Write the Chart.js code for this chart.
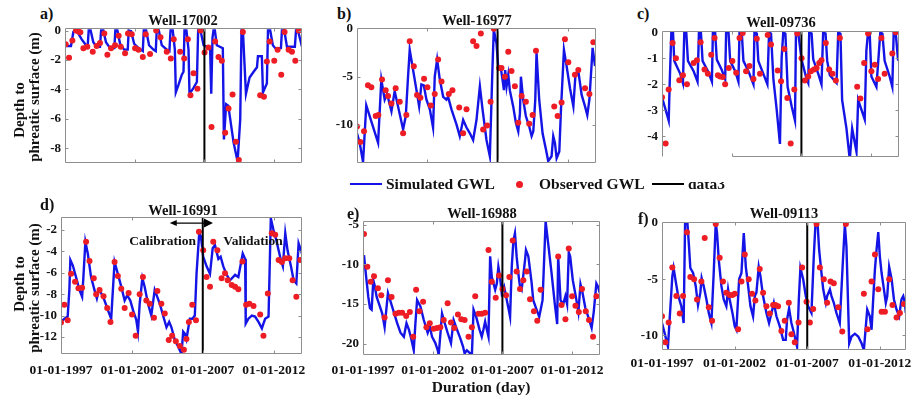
<!DOCTYPE html>
<html>
<head>
<meta charset="utf-8">
<script src="https://cdn.jsdelivr.net/npm/chart.js@4.4.1/dist/chart.umd.min.js"></script>
<style>
  body { margin: 0; background: #fff; }
  #fig { position: relative; width: 914px; height: 400px; overflow: hidden;
         font-family: "Liberation Serif", "Times New Roman", serif; font-weight: bold; color: #111; }
  .panel { position: absolute; }
  .txt { position: absolute; white-space: nowrap; line-height: 1; }
  .ttl { font-size: 14.5px; transform: translate(-50%, -50%); }
  .lab { font-size: 16px; transform: translate(0, -50%); }
  .ylab { font-size: 15px; transform: translate(-50%, -50%) rotate(-90deg); }
  .leg { font-size: 15.5px; top: 176.3px; }
</style>
</head>
<body>
<div id="fig">
  <div class="panel" id="pa"><canvas id="ca"></canvas></div>
  <div class="panel" id="pb"><canvas id="cb"></canvas></div>
  <div class="panel" id="pc"><canvas id="cc"></canvas></div>
  <div class="panel" id="pd"><canvas id="cd"></canvas></div>
  <div class="panel" id="pe"><canvas id="ce"></canvas></div>
  <div class="panel" id="pf"><canvas id="cf"></canvas></div>

  <!-- panel letters and titles -->
  <div class="txt lab" style="left:40px;top:14px">a)</div>
  <div class="txt lab" style="left:337px;top:14px">b)</div>
  <div class="txt lab" style="left:637px;top:14px">c)</div>
  <div class="txt lab" style="left:40px;top:205px">d)</div>
  <div class="txt lab" style="left:347px;top:214px">e)</div>
  <div class="txt lab" style="left:638px;top:219px">f)</div>
  <div class="txt ttl" style="left:183px;top:20px">Well-17002</div>
  <div class="txt ttl" style="left:477px;top:20px">Well-16977</div>
  <div class="txt ttl" style="left:781px;top:22px">Well-09736</div>
  <div class="txt ttl" style="left:183px;top:210px">Well-16991</div>
  <div class="txt ttl" style="left:482px;top:213px">Well-16988</div>
  <div class="txt ttl" style="left:784px;top:213px">Well-09113</div>

  <!-- y axis labels -->
  <div class="txt ylab" style="left:19px;top:110px">Depth to</div>
  <div class="txt ylab" style="left:34px;top:97px">phreatic surface (m)</div>
  <div class="txt ylab" style="left:19px;top:284px">Depth to</div>
  <div class="txt ylab" style="left:34px;top:288px">phreatic surface (m)</div>

  <!-- x axis label -->
  <div class="txt" style="left:481px;top:387px;font-size:15.5px;transform:translate(-50%,-50%)">Duration (day)</div>

  <!-- legend -->
  <div style="position:absolute;left:350px;top:183px;width:32px;height:2.4px;background:#1414e6"></div>
  <div class="txt leg" style="left:386px">Simulated GWL</div>
  <div style="position:absolute;left:515.5px;top:180.5px;width:7px;height:7px;border-radius:50%;background:#ee1c24"></div>
  <div class="txt leg" style="left:539px">Observed GWL</div>
  <div style="position:absolute;left:652px;top:183px;width:32px;height:2px;background:#000"></div>
  <div style="position:absolute;left:688px;top:182px;width:40px;height:9px;overflow:hidden">
    <div class="txt" style="left:0;top:-5.7px;font-size:15.5px">data3</div>
  </div>
</div>

<script>
// shared x axis (years) and split between calibration and validation
const xTicks = [1997, 2002, 2007, 2012];
const calibSplit = 2007;

// Well-17002
const aSim = [[1997.00,-1.05],[1997.43,-1.05],[1997.60,-0.1],[1997.72,0],[1997.89,-0.1],[1998.20,-0.6],[1998.51,-1.0],[1998.63,-1.0],[1998.70,0],[1998.84,0],
  [1999.03,-0.8],[1999.27,-1.1],[1999.51,-1.1],[1999.59,0],[1999.75,0],[1999.94,-0.8],[2000.23,-1.2],[2000.54,-1.2],[2000.61,0],[2000.76,0],
  [2000.95,-0.9],[2001.24,-1.3],[2001.50,-1.3],[2001.57,0],[2001.74,-0.05],[2001.96,-0.9],[2002.27,-1.2],[2002.58,-1.4],[2002.65,0],[2002.82,0],
  [2003.03,-1.0],[2003.34,-1.3],[2003.51,-1.4],[2003.58,0],[2003.73,0],[2003.94,-1.0],[2004.30,-1.3],[2004.49,-1.4],[2004.57,0],[2004.73,0],
  [2004.88,-1.3],[2004.95,-4.2],[2005.14,-3.7],[2005.38,-3.0],[2005.50,-2.8],[2005.57,0],[2005.71,0],[2005.86,-1.3],[2005.93,-4.3],[2006.22,-3.9],
  [2006.46,-3.5],[2006.55,0],[2006.72,0],[2006.94,-1.0],[2007.41,-1.2],[2007.49,-4.3],[2007.58,-0.5],[2007.65,0],[2007.75,0],[2007.89,-1.0],
  [2008.32,-1.2],[2008.40,-7.4],[2008.56,-5.0],[2008.71,-5.1],[2008.85,-6.0],[2009.09,-7.6],[2009.38,-8.9],[2009.57,-6.0],[2009.66,0],[2009.76,0],
  [2009.98,-4.3],[2010.24,-3.2],[2010.53,-2.8],[2010.77,-2.5],[2010.84,-1.75],[2011.12,-1.75],[2011.20,-4.2],[2011.48,-3.6],[2011.56,0],[2011.72,0],
  [2011.91,-1.0],[2012.08,-1.2],[2012.49,-1.2],[2012.56,0],[2012.73,0],[2012.92,-1.1],[2013.49,-1.1],[2013.57,0],[2013.71,0],[2014.00,-1.1]];
const aObs = [[1997.05,-0.93],[1997.29,-1.85],[1997.53,-0.68],[1997.79,0],[1997.96,-0.07],[1998.10,-0.12],[1998.32,-1.2],[1998.60,-1.1],[1998.99,-1.45],
  [1999.27,-1.05],[1999.51,-0.85],[1999.82,-0.2],[2000.04,-1.65],[2000.30,-1.2],[2000.59,-1.0],[2000.85,-0.35],[2001.00,-1.1],[2001.31,-1.55],
  [2001.52,-0.2],[2001.79,-0.25],[2002.03,-1.2],[2002.27,-1.3],[2002.58,-1.8],[2002.79,-0.25],[2003.10,-1.6],[2003.54,0],[2003.85,-0.45],
  [2004.30,-1.45],[2004.59,-1.9],[2004.80,-0.6],[2005.26,-1.45],[2005.55,-1.9],[2005.81,-0.6],[2006.00,-4.4],[2006.22,-2.9],[2006.50,-3.95],
  [2006.72,0],[2007.01,-1.5],[2007.29,-1.15],[2007.51,-6.55],[2007.77,-0.75],[2008.01,-1.8],[2008.25,-2.05],[2008.49,-6.95],[2008.73,-5.3],
  [2009.02,-4.35],[2009.26,-7.55],[2009.47,-8.8],[2009.76,-0.1],[2011.00,-4.4],[2011.27,-4.5],[2011.48,-2.1],[2011.68,-0.75],[2012.01,-2.05],
  [2012.25,-1.3],[2012.51,-3.0],[2012.75,-0.1],[2013.04,-1.3],[2013.28,-1.45],[2013.52,-2.05],[2013.76,0]];
const aTicks = [-8, -6, -4, -2, 0];

// Well-16977
const bSim = [[1997.00,-10.9],[1997.19,-11.9],[1997.43,-13.9],[1997.66,-8.0],[1998.50,-11.9],[1998.73,-5.3],[1998.97,-7.4],[1999.14,-6.8],[1999.33,-7.9],
  [1999.45,-8.6],[1999.68,-6.5],[1999.92,-8.1],[2000.28,-10.5],[2000.47,-9.1],[2000.63,-5.0],[2000.75,-2.2],[2000.99,-4.3],[2001.23,-6.4],
  [2001.42,-8.1],[2001.58,-5.8],[2001.75,-5.9],[2001.94,-7.4],[2002.18,-8.4],[2002.41,-10.3],[2002.53,-5.0],[2002.70,-3.2],[2002.89,-5.3],
  [2003.13,-7.1],[2003.36,-7.4],[2003.48,-7.1],[2003.72,-8.4],[2004.08,-10.0],[2004.31,-11.2],[2004.55,-9.5],[2004.79,-10.3],[2005.03,-10.9],
  [2005.26,-11.6],[2005.50,-9.5],[2005.74,-6.0],[2005.93,-8.4],[2006.21,-11.6],[2006.45,-13.3],[2006.64,-3.9],[2006.73,-0.1],[2006.92,-1.5],
  [2007.04,-3.9],[2007.23,-4.1],[2007.35,-5.3],[2007.45,-6.4],[2007.54,-4.3],[2007.64,-6.0],[2007.76,-4.8],[2007.87,-6.4],[2008.11,-8.1],
  [2008.30,-9.8],[2008.47,-10.7],[2008.59,-8.8],[2008.66,-5.0],[2008.82,-7.4],[2009.01,-9.1],[2009.25,-10.2],[2009.42,-11.2],[2009.54,-10.7],
  [2009.68,-7.4],[2009.77,-2.5],[2009.96,-7.4],[2010.20,-10.9],[2010.44,-12.6],[2010.60,-13.8],[2010.84,-13.3],[2010.96,-11.2],[2011.08,-11.9],
  [2011.20,-13.5],[2011.39,-12.8],[2011.51,-8.4],[2011.72,-2.2],[2011.91,-3.9],[2012.15,-6.2],[2012.39,-8.1],[2012.53,-5.0],[2012.74,-4.4],
  [2012.98,-6.9],[2013.22,-8.1],[2013.38,-9.0],[2013.53,-7.4],[2013.76,-2.0],[2013.93,-3.9]];
const bObs = [[1997.00,-10.2],[1997.24,-11.8],[1997.50,-10.7],[1997.78,-5.9],[1998.02,-6.1],[1998.33,-9.1],[1998.52,-9.0],[1998.78,-5.3],[1999.04,-6.4],
  [1999.21,-7.0],[1999.45,-7.8],[1999.75,-6.2],[2000.04,-7.6],[2000.28,-10.9],[2000.51,-9.0],[2000.75,-1.3],[2001.04,-3.9],[2001.27,-6.9],
  [2001.51,-7.2],[2001.77,-5.2],[2002.01,-6.1],[2002.25,-8.0],[2002.53,-6.8],[2002.77,-3.2],[2003.01,-5.5],[2003.53,-6.8],[2003.79,-6.4],
  [2004.27,-8.2],[2004.55,-10.9],[2004.79,-8.4],[2005.26,-1.3],[2005.50,-1.8],[2005.81,-0.5],[2005.97,-10.5],[2006.26,-10.1],[2006.50,-7.6],
  [2006.73,0],[2007.11,-4.1],[2007.28,-4.1],[2007.52,-5.0],[2007.76,-2.4],[2007.99,-4.4],[2008.23,-6.0],[2008.47,-9.8],[2008.71,-7.0],
  [2009.01,-7.6],[2009.25,-9.9],[2009.49,-9.0],[2009.73,-2.3],[2011.03,-8.1],[2011.27,-9.1],[2011.55,-7.7],[2011.79,-1.1],[2012.03,-3.5],
  [2012.50,-4.8],[2012.74,-4.3],[2013.22,-6.2],[2013.53,-6.8],[2013.81,-1.4]];
const bTicks = [-10, -5, 0];

// Well-09736
const cSim = [[1997.00,-2.5],[1997.48,-3.4],[1997.55,-2.0],[1997.67,0],[1997.79,0],[1997.88,-1.1],[1998.31,-1.6],[1998.50,-1.95],[1998.60,0],[1998.74,0],
  [1998.86,-1.1],[1999.27,-1.5],[1999.55,-1.9],[1999.65,0],[1999.79,0],[1999.91,-1.1],[2000.34,-1.55],[2000.58,-1.9],[2000.65,0],[2000.81,0],
  [2000.93,-1.05],[2001.29,-1.45],[2001.53,-1.8],[2001.60,0],[2001.77,0],[2001.89,-1.1],[2002.25,-1.5],[2002.48,-1.9],[2002.56,0],[2002.72,0],
  [2002.84,-1.1],[2003.20,-1.5],[2003.56,-2.0],[2003.63,0],[2003.80,-0.05],[2003.91,-1.1],[2004.27,-1.6],[2004.56,-2.0],[2004.68,0],[2004.82,-0.05],
  [2004.99,-1.8],[2005.23,-3.0],[2005.46,-4.3],[2005.58,-1.0],[2005.70,0],[2005.85,-0.05],[2006.01,-2.1],[2006.30,-2.85],[2006.54,-3.4],[2006.61,0],
  [2006.78,-0.05],[2007.01,-1.05],[2007.37,-1.8],[2007.49,-1.95],[2007.56,0],[2007.73,-0.05],[2007.85,-1.05],[2008.21,-1.6],[2008.44,-2.0],[2008.56,0],
  [2008.73,-0.05],[2008.85,-1.1],[2009.04,-1.65],[2009.52,-1.95],[2009.64,0],[2009.80,-0.05],[2009.92,-2.6],[2010.23,-3.7],[2010.47,-4.9],[2010.64,-3.7],
  [2010.95,-4.6],[2011.07,-2.6],[2011.54,-3.35],[2011.66,-0.7],[2011.78,0],[2011.90,-0.05],[2012.02,-1.7],[2012.38,-2.1],[2012.66,0],[2012.81,-0.05],
  [2012.97,-1.1],[2013.33,-1.7],[2013.52,-2.1],[2013.62,0],[2013.76,0],[2013.93,-1.05],[2014.00,-1.1]];
const cObs = [[1997.00,-2.5],[1997.26,-4.28],[1997.48,-2.2],[1997.76,-0.41],[1998.00,-1.0],[1998.24,-1.85],[1998.50,-1.65],[1998.79,-2.0],[1999.27,-1.18],
  [1999.50,-1.08],[1999.77,-0.38],[2000.05,-1.43],[2000.29,-1.6],[2000.53,-0.86],[2000.77,-0.22],[2001.01,-1.65],[2001.17,-1.7],[2001.36,-1.72],
  [2001.53,-2.0],[2001.79,-1.37],[2002.05,-1.1],[2002.32,-1.56],[2002.56,-0.22],[2002.79,-0.03],[2003.03,-1.5],[2003.27,-1.3],[2003.56,-1.8],
  [2003.80,-0.25],[2004.03,-1.6],[2004.58,-0.1],[2004.82,-0.47],[2005.30,-1.47],[2005.54,-1.88],[2005.77,-0.64],[2005.99,-2.53],[2006.23,-4.28],
  [2006.49,-2.2],[2006.70,-0.05],[2007.01,-1.0],[2007.25,-1.86],[2007.49,-1.7],[2007.68,-1.5],[2007.90,-1.43],[2008.09,-1.37],[2008.28,-1.18],
  [2008.44,-1.08],[2008.75,-0.41],[2008.99,-1.43],[2009.23,-1.6],[2009.47,-1.86],[2009.76,-0.22],[2011.00,-2.1],[2011.23,-2.55],[2011.50,-1.18],
  [2011.78,-0.05],[2012.02,-1.5],[2012.26,-1.25],[2012.50,-1.8],[2012.74,-0.22],[2012.97,-1.6],[2013.52,-0.82],[2013.76,0]];
const cTicks = [-4, -3, -2, -1, 0];

// Well-16991
const dSim = [[1997.00,-10.6],[1997.24,-10.3],[1997.47,-10.1],[1997.59,-7.6],[1997.66,-4.8],[1997.83,-5.3],[1998.06,-6.4],[1998.30,-7.6],[1998.49,-8.25],
  [1998.58,-6.4],[1998.72,-3.1],[1998.89,-4.2],[1999.12,-6.4],[1999.36,-7.6],[1999.53,-8.4],[1999.67,-7.6],[1999.83,-7.9],[2000.07,-8.6],[2000.31,-9.5],
  [2000.54,-10.3],[2000.66,-7.6],[2000.78,-5.0],[2001.01,-6.1],[2001.25,-7.3],[2001.49,-8.6],[2001.67,-8.1],[2001.89,-8.6],[2002.08,-9.5],[2002.31,-10.4],
  [2002.43,-11.5],[2002.55,-8.9],[2002.74,-6.5],[2002.90,-7.3],[2003.14,-8.9],[2003.37,-10.0],[2003.61,-7.6],[2003.97,-8.9],[2004.20,-10.0],[2004.44,-11.1],
  [2004.63,-10.6],[2004.79,-11.1],[2005.03,-12.3],[2005.26,-12.9],[2005.50,-13.6],[2005.62,-11.5],[2005.74,-11.7],[2005.85,-12.2],[2006.09,-10.3],
  [2006.28,-10.3],[2006.44,-10.0],[2006.56,-6.1],[2006.75,-2.3],[2006.87,-2.6],[2007.03,-4.5],[2007.27,-5.4],[2007.51,-6.1],[2007.70,-3.7],[2007.86,-3.4],
  [2008.10,-4.7],[2008.26,-4.5],[2008.45,-5.4],[2008.69,-6.2],[2008.92,-6.7],[2009.28,-6.2],[2009.51,-6.4],[2009.82,-4.2],[2009.99,-4.7],[2010.03,-10.75],
  [2010.22,-10.3],[2010.46,-10.0],[2010.69,-10.1],[2010.93,-10.6],[2011.17,-11.2],[2011.28,-10.75],[2011.40,-10.3],[2011.64,-10.1],[2011.71,-6.1],
  [2011.80,-0.9],[2011.99,-2.0],[2012.18,-2.9],[2012.35,-3.9],[2012.51,-4.8],[2012.65,-5.4],[2012.82,-2.3],[2012.98,-3.9],[2013.22,-5.4],[2013.41,-6.7],
  [2013.60,-7.0],[2013.76,-3.25],[2014.00,-4.2]];
const dObs = [[1997.00,-10.65],[1997.24,-9.0],[1997.47,-10.45],[1997.71,-6.1],[1997.99,-6.85],[1998.23,-7.45],[1998.49,-7.4],[1998.77,-3.1],[1999.01,-4.9],
  [1999.31,-6.5],[1999.48,-8.0],[1999.72,-7.6],[2000.00,-8.2],[2000.26,-9.3],[2000.49,-10.6],[2000.78,-5.0],[2001.01,-6.3],[2001.25,-7.5],[2001.49,-9.3],
  [2001.77,-7.9],[2002.01,-9.9],[2002.27,-11.9],[2002.55,-8.0],[2002.78,-6.4],[2003.02,-8.6],[2003.26,-8.9],[2003.56,-10.2],[2003.80,-7.7],[2004.08,-8.9],
  [2004.32,-9.8],[2004.60,-12.3],[2004.84,-11.9],[2005.10,-12.4],[2005.38,-12.85],[2005.67,-13.2],[2005.85,-12.2],[2006.02,-10.6],[2006.26,-9.0],
  [2006.52,-10.45],[2006.73,-2.15],[2007.03,-3.9],[2007.27,-6.4],[2007.51,-7.3],[2007.74,-3.1],[2008.03,-3.9],[2008.33,-6.5],[2008.57,-6.05],[2008.76,-6.7],
  [2009.04,-7.15],[2009.28,-7.3],[2009.51,-7.55],[2009.80,-4.95],[2010.06,-9.0],[2010.29,-8.9],[2010.58,-9.1],[2011.05,-9.9],[2011.28,-11.9],[2011.59,-7.95],
  [2011.87,-2.3],[2012.11,-2.45],[2012.35,-4.8],[2012.58,-5.0],[2012.82,-4.65],[2013.10,-4.65],[2013.34,-6.7],[2013.60,-8.25],[2013.88,-4.8]];
const dTicks = [-12, -10, -8, -6, -4, -2];

// Well-16988
const eSim = [[1997.07,-8.85],[1997.24,-11.8],[1997.38,-14.1],[1997.50,-15.5],[1997.62,-15.7],[1997.74,-12.0],[1997.83,-12.6],[1997.98,-14.1],[1998.21,-15.3],
  [1998.38,-16.2],[1998.55,-17.9],[1998.79,-13.6],[1999.21,-16.0],[1999.45,-17.4],[1999.69,-18.6],[1999.93,-19.1],[2000.12,-17.4],[2000.29,-18.2],
  [2000.48,-19.5],[2000.64,-20.8],[2000.76,-17.4],[2000.88,-14.5],[2001.12,-15.3],[2001.36,-17.0],[2001.64,-18.6],[2001.79,-17.8],[2001.95,-19.1],
  [2002.19,-19.9],[2002.36,-20.8],[2002.43,-21.4],[2002.67,-16.2],[2002.83,-17.2],[2003.07,-18.6],[2003.31,-19.9],[2003.50,-17.0],[2003.74,-18.2],
  [2003.98,-19.3],[2004.17,-20.3],[2004.29,-21.2],[2004.45,-20.8],[2004.57,-21.0],[2004.81,-21.4],[2004.93,-15.7],[2005.12,-16.6],[2005.36,-18.2],
  [2005.52,-19.1],[2005.64,-18.2],[2005.76,-17.2],[2005.88,-18.2],[2006.00,-19.1],[2006.12,-9.0],[2006.24,-11.6],[2006.48,-13.2],[2006.60,-12.4],
  [2006.71,-10.3],[2006.83,-11.6],[2006.95,-13.6],[2007.12,-12.8],[2007.43,-15.5],[2007.55,-16.6],[2007.67,-10.3],[2007.79,-7.0],[2007.90,-6.1],
  [2008.02,-9.0],[2008.14,-11.1],[2008.26,-12.8],[2008.38,-13.2],[2008.62,-9.5],[2008.69,-8.2],[2008.86,-9.0],[2009.10,-12.4],[2009.21,-14.5],
  [2009.45,-15.7],[2009.64,-16.6],[2009.88,-14.5],[2010.10,-4.6],[2010.29,-7.5],[2010.52,-11.0],[2010.76,-15.0],[2010.93,-17.5],[2011.00,-9.0],
  [2011.17,-14.5],[2011.36,-15.0],[2011.52,-14.0],[2011.64,-15.0],[2011.76,-8.5],[2011.86,-9.0],[2012.05,-12.0],[2012.26,-14.0],[2012.45,-16.0],
  [2012.60,-12.5],[2012.74,-13.5],[2012.95,-15.5],[2013.14,-16.5],[2013.40,-18.0],[2013.55,-16.0],[2013.74,-12.4],[2013.86,-12.8],[2013.98,-13.6]];
const eObs = [[1997.07,-6.2],[1997.31,-10.3],[1997.55,-12.2],[1997.79,-11.5],[1998.07,-13.0],[1998.31,-13.9],[1998.55,-16.7],[1998.79,-12.0],[1999.05,-14.1],
  [1999.33,-16.2],[1999.57,-16.1],[1999.81,-16.1],[2000.10,-16.5],[2000.36,-16.0],[2000.60,-19.1],[2000.81,-13.2],[2001.05,-15.9],[2001.31,-14.7],
  [2001.55,-17.9],[2001.79,-17.4],[2002.07,-18.1],[2002.31,-18.0],[2002.55,-17.9],[2002.79,-17.0],[2003.07,-14.9],[2003.31,-17.3],[2003.55,-18.0],
  [2003.81,-16.3],[2004.05,-16.9],[2004.29,-17.0],[2004.57,-19.1],[2004.81,-17.9],[2005.05,-14.0],[2005.29,-16.2],[2005.52,-16.2],[2005.76,-16.1],
  [2006.00,-8.2],[2006.24,-12.2],[2006.52,-14.2],[2006.76,-11.4],[2007.00,-13.1],[2007.26,-13.9],[2007.50,-11.6],[2007.74,-7.0],[2008.02,-10.9],
  [2008.26,-13.1],[2008.50,-12.0],[2008.74,-10.9],[2008.98,-14.4],[2009.26,-15.9],[2009.50,-17.1],[2009.74,-13.2],[2011.00,-9.0],[2011.24,-15.1],
  [2011.52,-16.9],[2011.76,-8.0],[2012.00,-14.0],[2012.24,-15.2],[2012.48,-16.0],[2012.71,-13.1],[2012.98,-15.9],[2013.21,-17.0],[2013.50,-19.1],
  [2013.74,-14.0]];
const eTicks = [-20, -15, -10, -5];

// Well-09113
const fSim = [[1997.00,-8.9],[1997.18,-9.8],[1997.41,-11.0],[1997.53,-8.5],[1997.71,-4.75],[1997.80,-4.0],[1997.92,-5.0],[1998.10,-6.4],[1998.33,-7.4],
  [1998.49,-8.9],[1998.59,0],[1998.75,0],[1998.86,-2.1],[1998.95,-4.0],[1999.14,-4.45],[1999.32,-5.6],[1999.48,-7.3],[1999.64,-6.2],[1999.73,-4.9],
  [1999.87,-5.6],[2000.06,-6.8],[2000.22,-8.0],[2000.40,-8.9],[2000.56,-4.45],[2000.70,0],[2000.79,-0.9],[2000.91,-3.3],[2001.09,-5.6],[2001.25,-6.8],
  [2001.43,-7.4],[2001.55,-5.9],[2001.66,-6.8],[2001.85,-8.0],[2002.01,-9.2],[2002.12,-9.5],[2002.31,-5.0],[2002.47,-4.45],[2002.63,-0.9],[2002.77,-3.9],
  [2002.93,-5.6],[2003.09,-7.4],[2003.27,-8.3],[2003.39,-6.5],[2003.50,-6.2],[2003.66,-3.9],[2003.78,-4.75],[2003.96,-6.5],[2004.19,-8.0],[2004.37,-8.9],
  [2004.54,-8.0],[2004.70,-7.1],[2004.88,-8.3],[2005.11,-9.2],[2005.34,-10.4],[2005.52,-10.4],[2005.61,-8.6],[2005.75,-7.6],[2005.91,-8.9],[2006.03,-9.5],
  [2006.14,-10.1],[2006.30,-11.0],[2006.42,-6.8],[2006.53,-4.0],[2006.72,-5.0],[2006.90,-6.5],[2007.06,-7.4],[2007.29,-8.0],[2007.45,-3.0],[2007.57,0],
  [2007.71,0],[2007.82,-2.4],[2007.98,-4.45],[2008.10,-5.9],[2008.28,-7.1],[2008.37,-6.5],[2008.56,-5.9],[2008.67,-6.5],[2008.83,-7.1],[2009.01,-8.0],
  [2009.24,-8.9],[2009.47,-3.0],[2009.59,-0.15],[2009.70,-2.1],[2009.89,-10.7],[2010.05,-10.1],[2010.28,-9.85],[2010.51,-10.1],[2010.74,-10.7],
  [2010.90,-11.3],[2011.13,-7.7],[2011.31,-8.3],[2011.43,-9.5],[2011.54,-6.8],[2011.66,-4.15],[2011.77,-2.4],[2011.89,-0.8],[2012.00,-3.0],[2012.12,-4.45],
  [2012.28,-5.9],[2012.41,-7.1],[2012.51,-6.5],[2012.64,-3.9],[2012.81,-5.0],[2012.97,-6.8],[2013.15,-7.7],[2013.33,-8.3],[2013.49,-6.8],[2013.61,-6.5],
  [2013.72,-7.1],[2013.79,-8.0]];
const fObs = [[1997.00,-8.3],[1997.23,-10.6],[1997.46,-8.85],[1997.71,-3.95],[1997.99,-6.5],[1998.22,-8.05],[1998.45,-6.5],[1998.72,-0.83],[1998.95,-4.8],
  [1999.21,-5.0],[1999.41,-6.8],[1999.71,-5.2],[1999.94,-1.34],[2000.22,-7.5],[2000.45,-8.7],[2000.70,-0.09],[2000.97,-3.1],[2001.20,-5.2],[2001.43,-6.2],
  [2001.66,-6.4],[2001.85,-6.4],[2002.01,-6.3],[2002.24,-9.45],[2002.47,-5.2],[2002.70,-2.8],[2002.97,-5.0],[2003.20,-6.3],[2003.43,-6.9],[2003.73,-4.1],
  [2003.96,-6.2],[2004.19,-7.4],[2004.42,-8.05],[2004.65,-7.3],[2004.81,-7.3],[2004.99,-7.4],[2005.22,-9.6],[2005.45,-8.7],[2005.73,-7.1],[2005.91,-9.9],
  [2006.14,-10.6],[2006.40,-8.85],[2006.65,-3.95],[2006.95,-7.0],[2007.18,-8.85],[2007.41,-7.65],[2007.64,-0.09],[2007.87,-3.95],[2008.14,-5.0],
  [2008.37,-7.1],[2008.60,-5.2],[2008.83,-5.35],[2009.13,-7.5],[2009.41,-9.65],[2009.66,-0.09],[2010.90,-6.3],[2011.15,-9.45],[2011.43,-5.2],
  [2011.66,-2.8],[2011.89,-5.9],[2012.12,-7.9],[2012.35,-7.9],[2012.64,-5.0],[2012.87,-7.3],[2013.15,-8.4],[2013.38,-8.0],[2013.66,-7.2]];
const fTicks = [-10, -5, 0];

const blue = '#1414e6';
const red = '#ee1c24';
const xTickFont = { family: 'Liberation Serif', size: 13.5, weight: 'bold' };
const yTickFont = { family: 'Liberation Serif', size: 13, weight: 'bold' };

// grey box round the plot with small inward tick marks
const boxPlugin = {
  id: 'box',
  afterDatasetsDraw(chart, args, opts) {
    const { ctx, chartArea: a, scales: { x, y } } = chart;
    const l = Math.round(a.left) + 0.5, r = Math.round(a.right) - 0.5;
    const t = Math.round(a.top) + 0.5, b = Math.round(a.bottom) - 0.5;
    const bFrom = opts.bottomFrom != null ? Math.round(x.getPixelForValue(opts.bottomFrom)) + 0.5 : l;
    ctx.save();
    ctx.strokeStyle = '#8e8e8e';
    ctx.lineWidth = 1;
    ctx.beginPath();
    ctx.moveTo(l, b); ctx.lineTo(l, t); ctx.lineTo(r, t); ctx.lineTo(r, b); ctx.lineTo(bFrom, b);
    x.ticks.forEach(tk => {
      const px = Math.round(x.getPixelForValue(tk.value)) + 0.5;
      if (px <= l + 1 || px >= r - 1) return;
      if (px >= bFrom) { ctx.moveTo(px, b); ctx.lineTo(px, b - 3); }
      ctx.moveTo(px, t); ctx.lineTo(px, t + 3);
    });
    y.ticks.forEach(tk => {
      const py = Math.round(y.getPixelForValue(tk.value)) + 0.5;
      if (py <= t + 1 || py >= b - 1) return;
      ctx.moveTo(l, py); ctx.lineTo(l + 3, py);
      ctx.moveTo(r, py); ctx.lineTo(r - 3, py);
    });
    ctx.stroke();
    ctx.restore();
  }
};

// calibration / validation arrow for Well-16991
const arrowPlugin = {
  id: 'calib',
  afterDatasetsDraw(chart) {
    const { ctx, scales: { x, y } } = chart;
    const yA = y.getPixelForValue(-1.35);
    const x0 = x.getPixelForValue(2004.67), x1 = x.getPixelForValue(2007.72);
    ctx.save();
    ctx.strokeStyle = '#000'; ctx.fillStyle = '#000'; ctx.lineWidth = 1.3;
    ctx.beginPath(); ctx.moveTo(x0 + 4, yA); ctx.lineTo(x1 - 6, yA); ctx.stroke();
    ctx.beginPath(); ctx.moveTo(x0, yA); ctx.lineTo(x0 + 7, yA - 3); ctx.lineTo(x0 + 7, yA + 3); ctx.closePath(); ctx.fill();
    ctx.beginPath(); ctx.moveTo(x1, yA); ctx.lineTo(x1 - 9, yA - 4.5); ctx.lineTo(x1 - 9, yA + 4.5); ctx.closePath(); ctx.fill();
    ctx.font = 'bold 13.5px "Liberation Serif"';
    ctx.textAlign = 'center'; ctx.textBaseline = 'middle'; ctx.fillStyle = '#111';
    ctx.fillText('Calibration', x.getPixelForValue(2004.17), y.getPixelForValue(-3.12));
    ctx.fillText('Validation', x.getPixelForValue(2010.55), y.getPixelForValue(-3.12));
    ctx.restore();
  }
};

// no automatic padding from tick labels: the plot box is placed by hand
function noPad(s) { s.paddingTop = 0; s.paddingBottom = 0; s.paddingLeft = 0; s.paddingRight = 0; }

function makePanel(key, sim, obs, yMin, yMax, yTicks, box, opt) {
  const padTop = 5, yW = 40, padR = opt.padR || 12, hx = opt.showX ? 30 : 0;
  const holder = document.getElementById('p' + key);
  holder.style.left = (box.l - yW) + 'px';
  holder.style.top = (box.t - padTop) + 'px';
  holder.style.width = (box.r - box.l + yW + padR) + 'px';
  holder.style.height = (box.b - box.t + padTop + hx) + 'px';
  const plugins = [boxPlugin];
  if (opt.arrow) plugins.push(arrowPlugin);
  return new Chart(document.getElementById('c' + key), {
    type: 'scatter',
    data: {
      datasets: [{
        label: 'data3',
        data: [{ x: calibSplit, y: yMin }, { x: calibSplit, y: yMax }],
        showLine: true, borderColor: '#000', borderWidth: 2, pointRadius: 0, order: 0
      }, {
        label: 'Observed GWL',
        data: obs.map(p => ({ x: p[0], y: p[1] })),
        pointRadius: 3, pointBackgroundColor: red, pointBorderWidth: 0, order: 1
      }, {
        label: 'Simulated GWL',
        data: sim.map(p => ({ x: p[0], y: p[1] })),
        showLine: true, borderColor: blue, borderWidth: 2.4, pointRadius: 0, order: 2
      }]
    },
    options: {
      responsive: true, maintainAspectRatio: false, animation: false,
      layout: { padding: { top: padTop, right: padR, left: 0, bottom: 0 }, autoPadding: false },
      plugins: { legend: { display: false }, tooltip: { enabled: false }, box: { bottomFrom: opt.bottomFrom } },
      scales: {
        x: {
          type: 'linear', min: 1997, max: opt.xMax || 2014,
          afterFit: s => { s.height = hx; noPad(s); },
          afterBuildTicks: s => { s.ticks = xTicks.map(v => ({ value: v })); },
          grid: { display: false, drawTicks: false }, border: { display: false },
          ticks: { display: !!opt.showX, autoSkip: false, maxRotation: 0, padding: opt.xPad || 8,
                   color: '#111', font: xTickFont, callback: v => '01-01-' + v }
        },
        y: {
          min: yMin, max: yMax,
          afterFit: s => { s.width = yW; noPad(s); },
          afterBuildTicks: s => { s.ticks = yTicks.map(v => ({ value: v })); },
          grid: { display: false, drawTicks: false }, border: { display: false },
          ticks: { padding: 4, color: '#111', font: yTickFont, callback: v => String(v) }
        }
      }
    },
    plugins: plugins
  });
}

makePanel('a', aSim, aObs, -9.0, 0.17, aTicks, { l: 65, t: 28, r: 302, b: 163 }, {});
makePanel('b', bSim, bObs, -14.0, 0.08, bTicks, { l: 357, t: 28, r: 596, b: 163 }, {});
makePanel('c', cSim, cObs, -4.8, 0.05, cTicks, { l: 662, t: 31, r: 899, b: 157 }, { bottomFrom: 2002 });
makePanel('d', dSim, dObs, -13.6, -0.78, dTicks, { l: 61, t: 217, r: 302, b: 354 }, { showX: true, xPad: 8, arrow: true });
makePanel('e', eSim, eObs, -21.4, -4.55, eTicks, { l: 363, t: 221, r: 600, b: 355 }, { showX: true, xPad: 7 });
makePanel('f', fSim, fObs, -11.3, 0.09, fTicks, { l: 662, t: 222, r: 906, b: 350 }, { showX: true, xPad: 5, xMax: 2013.8, padR: 8 });
</script>
</body>
</html>
